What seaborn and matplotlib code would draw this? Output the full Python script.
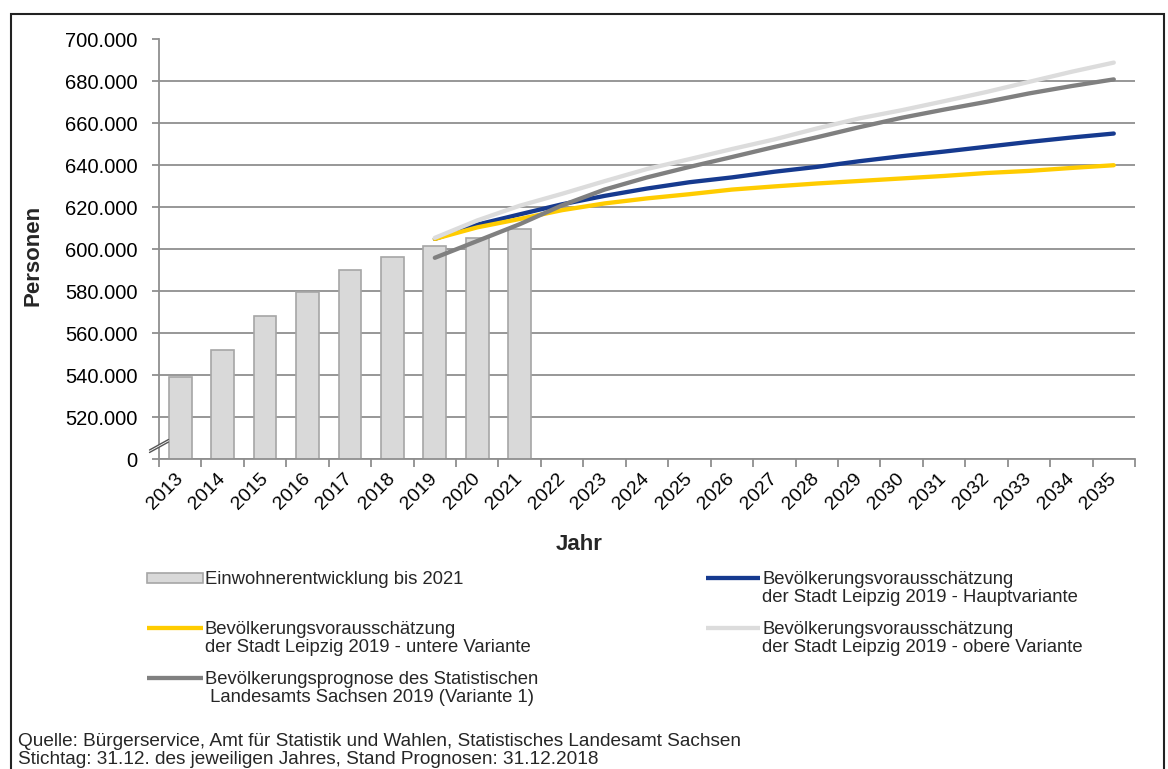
import numpy as np
import pandas as pd
import matplotlib
matplotlib.use("Agg")
import matplotlib.pyplot as plt
import seaborn as sns
from matplotlib.lines import Line2D
from matplotlib.patches import Rectangle, Polygon
from matplotlib.ticker import FixedLocator, FixedFormatter, NullFormatter

# ---------------- data ----------------
years_hist = [2013, 2014, 2015, 2016, 2017, 2018, 2019, 2020, 2021]
pop_hist = [539300, 552200, 568200, 579500, 590300, 596200, 601400, 605400, 609700]

years_proj = list(range(2019, 2036))
haupt = [605000, 611800, 616700, 621500, 625500, 629000, 632000, 634300, 637000,
         639300, 642000, 644400, 646600, 648900, 651200, 653300, 655200]
untere = [605000, 610500, 614500, 618700, 621900, 624300, 626300, 628500, 630000,
          631400, 632600, 633800, 635000, 636400, 637400, 638800, 640100]
obere = [605500, 613800, 620800, 626500, 632500, 638300, 643000, 647800, 652400,
         657600, 662400, 666300, 670600, 675000, 679800, 684600, 689000]
landesamt = [596000, 604000, 612000, 621000, 628500, 634300, 639300, 644000, 648800,
             653400, 658200, 662700, 666600, 670300, 674300, 677800, 681000]

all_years = list(range(2013, 2036))
x_labels = [str(y) for y in all_years]
y_ticks = [500000, 520000, 540000, 560000, 580000, 600000, 620000, 640000, 660000, 680000, 700000]
y_labels = ["0", "520.000", "540.000", "560.000", "580.000", "600.000", "620.000",
            "640.000", "660.000", "680.000", "700.000"]

lbl_hist = "Einwohnerentwicklung bis 2021"
lbl_haupt = "Bevölkerungsvorausschätzung\nder Stadt Leipzig 2019 - Hauptvariante"
lbl_untere = "Bevölkerungsvorausschätzung\nder Stadt Leipzig 2019 - untere Variante"
lbl_obere = "Bevölkerungsvorausschätzung\nder Stadt Leipzig 2019 - obere Variante"
lbl_land = "Bevölkerungsprognose des Statistischen\n Landesamts Sachsen 2019 (Variante 1)"

footer1 = "Quelle: Bürgerservice, Amt für Statistik und Wahlen, Statistisches Landesamt Sachsen"
footer2 = "Stichtag: 31.12. des jeweiligen Jahres, Stand Prognosen: 31.12.2018"

# ---------------- style ----------------
sns.set_style("white")
plt.rcParams['font.family'] = ['Liberation Sans', 'DejaVu Sans']
plt.rcParams['axes.unicode_minus'] = False

C_BAR = "#d9d9d9"
C_BAR_EDGE = "#a6a6a6"
C_BLUE = "#163a8f"
C_YELLOW = "#ffcc00"
C_LIGHT = "#dcdcdc"
C_DARK = "#808080"
C_GRID = "#8f8f8f"
LW = 3.1

W, H = 1168, 769
fig = plt.figure(figsize=(W / 100, H / 100), dpi=100)
fig.patch.set_facecolor("white")


def fx(px):
    return px / W


def fy(py):
    return 1 - py / H


ax_l, ax_r, ax_t, ax_b = 159, 1135, 39.5, 459.3
ax = fig.add_axes([fx(ax_l), fy(ax_b), fx(ax_r - ax_l), (ax_b - ax_t) / H])

df_hist = pd.DataFrame({"Jahr": years_hist, "Personen": pop_hist})
sns.barplot(data=df_hist, x="Jahr", y="Personen", native_scale=True, width=0.535,
            color=C_BAR, edgecolor=C_BAR_EDGE, linewidth=1.2, saturation=1,
            errorbar=None, ax=ax, zorder=2)

df_proj = pd.DataFrame({
    "Jahr": years_proj * 4,
    "Personen": haupt + untere + obere + landesamt,
    "Serie": ["haupt"] * len(haupt) + ["untere"] * len(untere)
             + ["obere"] * len(obere) + ["land"] * len(landesamt),
})
palette = {"haupt": C_BLUE, "untere": C_YELLOW, "obere": C_LIGHT, "land": C_DARK}
sns.lineplot(data=df_proj, x="Jahr", y="Personen", hue="Serie",
             hue_order=["haupt", "untere", "obere", "land"], palette=palette,
             linewidth=LW, legend=False, ax=ax, solid_capstyle="round", zorder=3)

ax.set_xlim(2012.5, 2035.5)
ax.set_ylim(500000, 700000)

# axes styling
for s in ["top", "right"]:
    ax.spines[s].set_visible(False)
for s in ["left", "bottom"]:
    ax.spines[s].set_color(C_GRID)
    ax.spines[s].set_linewidth(1.3)
ax.yaxis.grid(True, color=C_GRID, linewidth=1.3)
ax.xaxis.grid(False)
ax.set_axisbelow(True)

ax.yaxis.set_major_locator(FixedLocator(y_ticks))
ax.yaxis.set_major_formatter(FixedFormatter(y_labels))
ax.tick_params(axis="y", which="major", length=5, width=1.3, color=C_GRID,
               direction="out", left=True, pad=10.5, labelsize=14.5, labelcolor="black")

bounds = list(np.arange(2012.5, 2036.0, 1.0))
ax.xaxis.set_major_locator(FixedLocator(bounds))
ax.xaxis.set_major_formatter(NullFormatter())
ax.xaxis.set_minor_locator(FixedLocator(all_years))
ax.xaxis.set_minor_formatter(FixedFormatter(x_labels))
ax.tick_params(axis="x", which="major", length=6, width=1.3, color=C_GRID,
               direction="out", bottom=True)
ax.tick_params(axis="x", which="minor", length=0, pad=12, labelsize=14,
               labelcolor="black", labelrotation=45)
for t in ax.get_xticklabels(minor=True):
    t.set_ha("right")
    t.set_va("center")
    t.set_rotation_mode("anchor")
ax.set_xlabel("")
ax.set_ylabel("")

# axis titles
fig.text(fx(33), fy(255), "Personen", rotation=90, ha="center", va="center",
         fontsize=16, fontweight="bold")
fig.text(fx(579), fy(545), "Jahr", ha="center", va="center",
         fontsize=16, fontweight="bold")

# axis break mark
bx0, bx1 = 149.5, 168.5
poly = Polygon([(fx(bx0), fy(452.5)), (fx(bx1), fy(442.0)),
                (fx(bx1), fy(439.5)), (fx(bx0), fy(450.0))],
               closed=True, transform=fig.transFigure, facecolor="white",
               edgecolor="none", zorder=10)
fig.add_artist(poly)
for (ya, yb) in [(452.5, 442.0), (450.0, 439.5)]:
    fig.add_artist(Line2D([fx(bx0), fx(bx1)], [fy(ya), fy(yb)], transform=fig.transFigure,
                          color="#555555", linewidth=1.0, zorder=11))

# manual legend
LEG_FS = 13.3


def leg_text(x, y_first, txt):
    fig.text(fx(x), fy(y_first - 7.5), txt, ha="left", va="top", fontsize=LEG_FS,
             linespacing=1.14)


def leg_line(x0, x1, y, color):
    fig.add_artist(Line2D([fx(x0), fx(x1)], [fy(y), fy(y)], transform=fig.transFigure,
                          color=color, linewidth=LW, solid_capstyle="butt"))


fig.add_artist(Rectangle((fx(147), fy(583)), fx(203 - 147), 10 / H, transform=fig.transFigure,
                         facecolor=C_BAR, edgecolor=C_BAR_EDGE, linewidth=1.2))
leg_text(205, 578, lbl_hist)
leg_line(147, 203, 628, C_YELLOW)
leg_text(205, 628, lbl_untere)
leg_line(147, 203, 678, C_DARK)
leg_text(205, 678, lbl_land)
leg_line(706, 760, 578, C_BLUE)
leg_text(762, 578, lbl_haupt)
leg_line(706, 760, 628, C_LIGHT)
leg_text(762, 628, lbl_obere)

# footer
fig.text(fx(18), fy(741), footer1, ha="left", va="center", fontsize=13.7)
fig.text(fx(18), fy(760), footer2, ha="left", va="center", fontsize=13.7)

# outer frame
fig.add_artist(Rectangle((fx(11), -0.05), fx(1164 - 11), fy(14) + 0.05,
                         transform=fig.transFigure, fill=False, edgecolor="#222222",
                         linewidth=1.5, zorder=20))

fig.savefig("out.png", dpi=100, facecolor="white")
